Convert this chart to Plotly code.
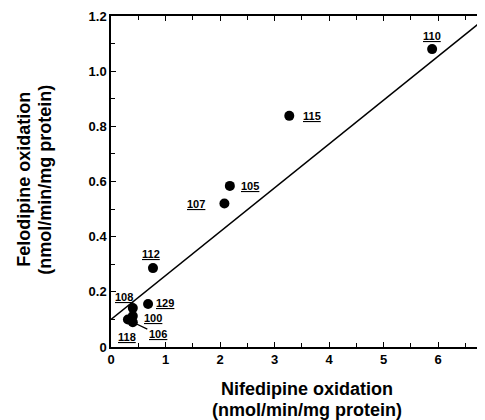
import plotly.graph_objects as go

labels = ["110", "115", "105", "107", "112", "129", "108", "100", "118", "106"]
nifedipine = [5.89, 3.27, 2.18, 2.08, 0.77, 0.68, 0.40, 0.40, 0.31, 0.40]
felodipine = [1.08, 0.838, 0.584, 0.52, 0.286, 0.156, 0.141, 0.112, 0.10, 0.09]
label_dx = [0, 23, 20, -28, -2, 17, -9, 20, -1, None]
label_dy = [13, 0, 0, 0, 14, 1, 11, -2, -18, None]

fit_x = [0, 6.86]
fit_intercept = 0.10
fit_slope = 0.159

ytick_vals = [0, 0.2, 0.4, 0.6, 0.8, 1.0, 1.2]
ytick_text = ["0", "0.2", "0.4", "0.6", "0.8", "1.0", "1.2"]
xtick_vals = [0, 1, 2, 3, 4, 5, 6]

FONT = "Liberation Sans, Arial, sans-serif"

fig = go.Figure()
fig.add_trace(go.Scatter(
    x=fit_x, y=[fit_intercept + fit_slope * v for v in fit_x],
    mode="lines", line=dict(color="black", width=1.5), hoverinfo="skip"))
fig.add_trace(go.Scatter(
    x=nifedipine, y=felodipine, mode="markers",
    marker=dict(color="black", size=10), hoverinfo="skip"))

font_lbl = dict(family=FONT, size=11, color="black")
for lab, x, y, dx, dy in zip(labels, nifedipine, felodipine, label_dx, label_dy):
    if dx is None:
        fig.add_annotation(x=x, y=y, xref="x", yref="y", text="<b><u>%s</u></b>" % lab,
                           showarrow=True, arrowhead=0, arrowwidth=1.3, arrowcolor="black",
                           ax=25, ay=12, standoff=3, font=font_lbl)
    else:
        fig.add_annotation(x=x, y=y, xref="x", yref="y", text="<b><u>%s</u></b>" % lab,
                           showarrow=False, xshift=dx, yshift=dy, font=font_lbl)

title_font = dict(family=FONT, size=18, color="black")
# x-axis title (two tightly spaced lines)
fig.add_annotation(text="<b>Nifedipine oxidation</b>", xref="paper", yref="paper",
                   x=0.524, y=-0.127, showarrow=False, font=title_font,
                   xanchor="center", yanchor="middle")
fig.add_annotation(text="<b>(nmol/min/mg protein)</b>", xref="paper", yref="paper",
                   x=0.524, y=-0.190, showarrow=False, font=title_font,
                   xanchor="center", yanchor="middle")
# y-axis title
fig.add_annotation(text="<b>Felodipine oxidation</b>", xref="paper", yref="paper",
                   x=-0.2326, y=0.505, showarrow=False, font=title_font, textangle=-90,
                   xanchor="center", yanchor="middle")
fig.add_annotation(text="<b>(nmol/min/mg protein)</b>", xref="paper", yref="paper",
                   x=-0.1765, y=0.505, showarrow=False, font=title_font, textangle=-90,
                   xanchor="center", yanchor="middle")

axis_font = dict(family=FONT, size=13, color="black")

fig.update_layout(
    width=477, height=412,
    margin=dict(l=103, r=0, t=8, b=73),
    paper_bgcolor="white", plot_bgcolor="white",
    showlegend=False,
    xaxis=dict(range=[0, 6.86], tickvals=xtick_vals,
               ticktext=["<b>%d</b>" % v for v in xtick_vals],
               ticks="inside", ticklen=5,
               tickcolor="black", showline=True, linecolor="black", linewidth=1.5,
               mirror="ticks", showgrid=False, zeroline=False,
               minor=dict(dtick=0.5, tick0=0, ticks="inside", ticklen=4, tickcolor="black"),
               tickfont=axis_font),
    yaxis=dict(range=[0, 1.2], tickvals=ytick_vals,
               ticktext=["<b>%s</b>" % t for t in ytick_text],
               ticks="inside", ticklen=5, tickcolor="black", showline=True,
               linecolor="black", linewidth=1.5, mirror=False, showgrid=False, zeroline=False,
               minor=dict(dtick=0.1, tick0=0, ticks="inside", ticklen=4, tickcolor="black"),
               tickfont=axis_font),
)

fig.write_html("out.html")
